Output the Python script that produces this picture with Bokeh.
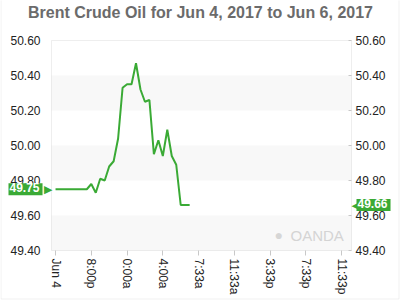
from bokeh.plotting import figure
from bokeh.models import (Range1d, LinearAxis, FixedTicker, BoxAnnotation, Label,
                          NumeralTickFormatter)
from bokeh.embed import file_html
from bokeh.resources import INLINE

# ---- data (hours since Jun 4 16:00, half-hour bars) ----
hours = [0, 0.5, 1, 1.5, 2, 2.5, 3, 3.5, 4, 4.5, 5, 5.5, 6, 6.5, 7, 7.5, 8, 8.5,
         9, 9.5, 10, 10.5, 11, 11.5, 12, 12.5, 13, 13.5, 14, 14.5, 15]
prices = [49.75, 49.75, 49.75, 49.75, 49.75, 49.75, 49.75, 49.75, 49.78, 49.73,
          49.81, 49.80, 49.88, 49.91, 50.04, 50.33, 50.35, 50.35, 50.47, 50.32,
          50.25, 50.26, 49.95, 50.03, 49.94, 50.09, 49.94, 49.89, 49.66, 49.66, 49.66]
x_ticks = [0, 4, 8, 12, 16, 20, 24, 28, 32]
x_labels = ["Jun 4", "8:00p", "0:00a", "4:00a", "7:33a", "11:33a", "3:33p", "7:33p", "11:33p"]
y_ticks = [49.40, 49.60, 49.80, 50.00, 50.20, 50.40, 50.60]
title_text = "Brent Crude Oil for Jun 4, 2017 to Jun 6, 2017"

GREEN = "#3aaa35"
GRAY = "#c8c8c8"
FONT = "Liberation Sans"
W, H = 400, 300
# plot box in page pixels: x 51..351, y 40..250
X0, X1 = -0.45, 33.1
PX_PER_X = 300 / (X1 - X0)
PX_PER_Y = 210 / (y_ticks[-1] - y_ticks[0])
xs_start = X0 - 51 / PX_PER_X
xs_end = X1 + (W - 351) / PX_PER_X
ys_start = y_ticks[0] - (H - 250) / PX_PER_Y
ys_end = y_ticks[-1] + 40 / PX_PER_Y

p = figure(width=W, height=H, output_backend="svg", toolbar_location=None,
           x_range=Range1d(xs_start, xs_end), y_range=Range1d(ys_start, ys_end),
           min_border=0, min_border_left=0, min_border_right=0,
           min_border_top=0, min_border_bottom=0,
           background_fill_color="white", border_fill_color="white")
p.title.text = ""
p.title.visible = False
p.outline_line_color = None
p.grid.grid_line_color = None

# alternating bands inside the plot box
for i in range(0, len(y_ticks) - 1, 2):
    p.add_layout(BoxAnnotation(left=X0, right=X1, bottom=y_ticks[i], top=y_ticks[i + 1],
                               fill_color="#f8f8f8", fill_alpha=1, line_alpha=0,
                               level="underlay"))
# plot box outline
p.add_layout(BoxAnnotation(left=X0, right=X1, bottom=y_ticks[0], top=y_ticks[-1],
                           fill_alpha=0, line_color=GRAY, line_width=1, level="underlay"))
# outer chart border (left, right, bottom)
p.add_layout(BoxAnnotation(left=xs_start + 0.5 / PX_PER_X, right=xs_end - 1.5 / PX_PER_X,
                           bottom=ys_start + 1.5 / PX_PER_Y, top=ys_end + 5 / PX_PER_Y,
                           fill_alpha=0, line_color="#cccccc", line_width=1))

p.line(hours, prices, line_color=GREEN, line_width=2)

# x axis, fixed at the plot box bottom
xa = p.xaxis[0]
xa.fixed_location = y_ticks[0]
xa.ticker = FixedTicker(ticks=x_ticks)
xa.major_label_overrides = {k: v for k, v in zip(x_ticks, x_labels)}
xa.major_label_orientation = "vertical"
xa.axis_line_color = None
xa.major_tick_line_color = GRAY
xa.major_tick_out = 5
xa.major_tick_in = 0
xa.minor_tick_line_color = None
xa.major_label_text_font = FONT
xa.major_label_text_font_size = "12px"
xa.major_label_text_color = "#222222"
xa.major_label_standoff = 3

# y axes, fixed at the plot box edges
ya = p.yaxis[0]
ya.fixed_location = X0
ya.ticker = FixedTicker(ticks=y_ticks)
ya.formatter = NumeralTickFormatter(format="0.00")
ya.axis_line_color = None
ya.major_tick_line_color = None
ya.minor_tick_line_color = None
ya.major_label_text_font = FONT
ya.major_label_text_font_size = "12px"
ya.major_label_text_color = "#222222"
ya.major_label_standoff = 5

ra = LinearAxis(ticker=FixedTicker(ticks=y_ticks), formatter=NumeralTickFormatter(format="0.00"),
                fixed_location=X1)
ra.axis_line_color = None
ra.major_tick_line_color = GRAY
ra.major_tick_in = 3
ra.major_tick_out = 0
ra.minor_tick_line_color = None
ra.major_label_text_font = FONT
ra.major_label_text_font_size = "12px"
ra.major_label_text_color = "#222222"
ra.major_label_standoff = 4
p.add_layout(ra, "right")

# title
p.add_layout(Label(x=(xs_start + xs_end) / 2, y=ys_end - 12 / PX_PER_Y, text=title_text,
                   text_align="center", text_baseline="middle",
                   text_font=FONT, text_font_size="16px", text_font_style="bold",
                   text_color="#6b6b6b"))

# value tags
first_val = prices[0]
last_val = prices[-1]
p.add_layout(Label(x=X0 + 0.1, y=first_val, text="▶", text_align="right",
                   text_baseline="middle", text_font="DejaVu Sans", text_font_size="11px",
                   text_color=GREEN))
p.add_layout(Label(x=xs_start + 8 / PX_PER_X, y=first_val, text=f"{first_val:.2f}",
                   text_font=FONT, text_font_size="12px",
                   text_font_style="bold", text_color="white", text_baseline="middle",
                   background_fill_color=GREEN, padding=(1, 3, 0, 3)))
p.add_layout(Label(x=X1, y=last_val, text="◀", text_align="left",
                   text_baseline="middle", text_font="DejaVu Sans", text_font_size="11px",
                   text_color=GREEN))
p.add_layout(Label(x=X1 + 5 / PX_PER_X, y=last_val, text=f"{last_val:.2f}",
                   text_font=FONT, text_font_size="12px",
                   text_font_style="bold", text_color="white", text_baseline="middle",
                   background_fill_color=GREEN, padding=(1, 3, 0, 3)))

# watermark
p.add_layout(Label(x=X1 - 61 / PX_PER_X, y=y_ticks[0] + 7 / PX_PER_Y, text="OANDA",
                   text_font=FONT, text_font_size="15px", text_color="#d4d4d4"))
p.add_layout(Label(x=X1 - 77 / PX_PER_X, y=y_ticks[0] + 8 / PX_PER_Y, text="●",
                   text_font=FONT, text_font_size="14px", text_color="#d6d6d6"))

open("out.html", "w").write(file_html(p, INLINE))
